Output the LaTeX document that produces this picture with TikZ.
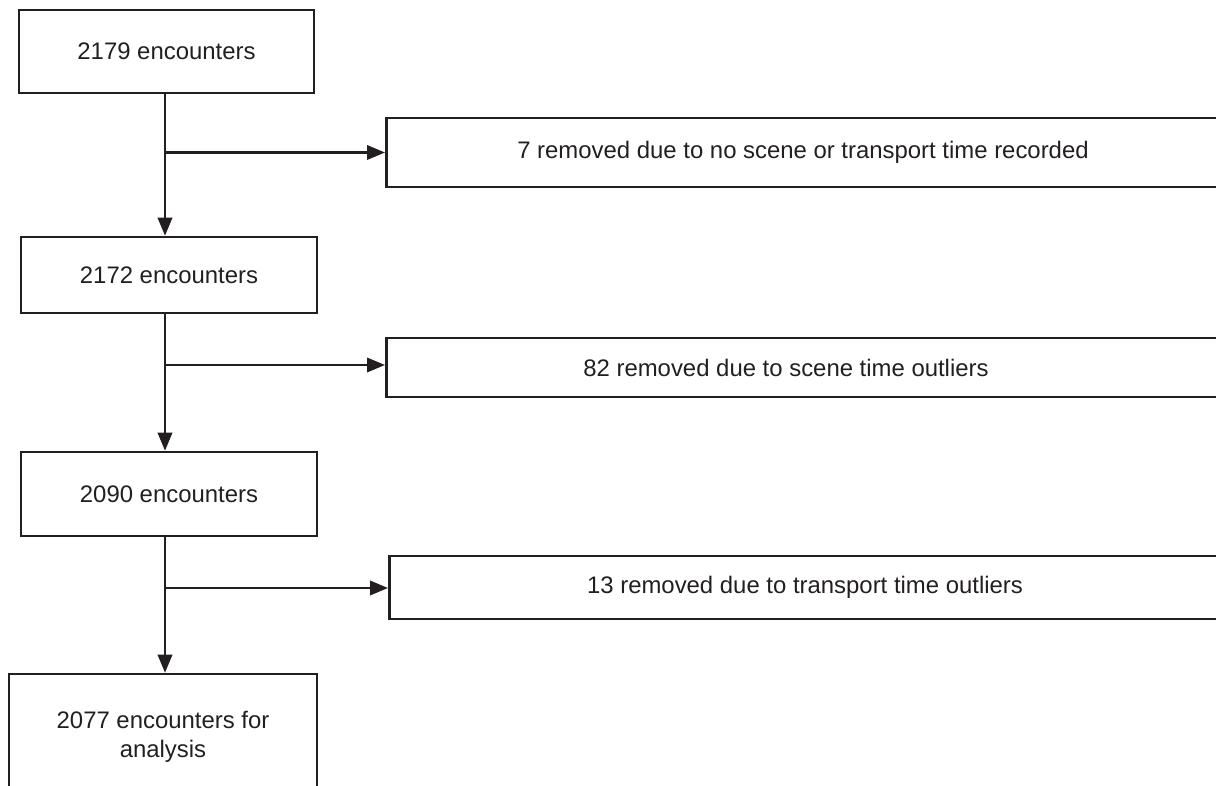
\documentclass[tikz,border=0pt]{standalone}
\usepackage{fontspec}
\setmainfont{Liberation Sans}
\usetikzlibrary{arrows.meta,positioning}
\definecolor{FlowInk}{HTML}{231F20}

\begin{document}
\begin{tikzpicture}[x=0.025cm,y=-0.025cm]
    \tikzset{countbox/.style={draw=FlowInk,line width=1.8pt,align=center,inner sep=0pt,
      font=\fontsize{17}{20.5}\selectfont,text=FlowInk},
      dropbox/.style={draw=FlowInk,line width=1.8pt,anchor=west,inner sep=0pt},
      droptext/.style={font=\fontsize{17}{20.5}\selectfont,text=FlowInk,inner sep=0pt},
      flowarrow/.style={-{Triangle[length=0.45cm,width=0.36cm]},draw=FlowInk,line width=1.6pt}}
    \useasboundingbox (0,0) rectangle (1216,786);
    \clip (0,0) rectangle (1216,786);
    % counts kept after each step
    \node[countbox,minimum width=7.375cm,minimum height=2.075cm] (n2179) at (166.5,51.5) {2179 encounters};
    \node[countbox,minimum width=7.4cm,minimum height=1.9cm] (n2172) at (169,275) {2172 encounters};
    \node[countbox,minimum width=7.4cm,minimum height=2.1cm] (n2090) at (169,494) {2090 encounters};
    \node[countbox,minimum width=7.7cm,minimum height=3.15cm] (n2077) at (163,737) {2077 encounters for\\analysis};
    % exclusions
    \node[dropbox,minimum width=25.4cm,minimum height=1.725cm] (drop7) at (385,152.5) {};
    \node[droptext] (drop7txt) at (803,152.5) {7 removed due to no scene or transport time recorded};
    \node[dropbox,minimum width=25.4cm,minimum height=1.475cm] (drop82) at (385,367.5) {};
    \node[droptext] (drop82txt) at (786,367.5) {82 removed due to scene time outliers};
    \node[dropbox,minimum width=25.3cm,minimum height=1.575cm] (drop13) at (388,587.5) {};
    \node[droptext] (drop13txt) at (805,587.5) {13 removed due to transport time outliers};
    \coordinate (j1) at (165,152.5);
    \coordinate (j2) at (165,365);
    \coordinate (j3) at (165,588);
    \draw[flowarrow] (j1 |- n2179.south) -- (j1 |- n2172.north);
    \draw[flowarrow] (j2 |- n2172.south) -- (j2 |- n2090.north);
    \draw[flowarrow] (j3 |- n2090.south) -- (j3 |- n2077.north);
    \draw[flowarrow] (j1) -- (j1 -| drop7.west);
    \draw[flowarrow] (j2) -- (j2 -| drop82.west);
    \draw[flowarrow] (j3) -- (j3 -| drop13.west);
  \end{tikzpicture}
\end{document}
